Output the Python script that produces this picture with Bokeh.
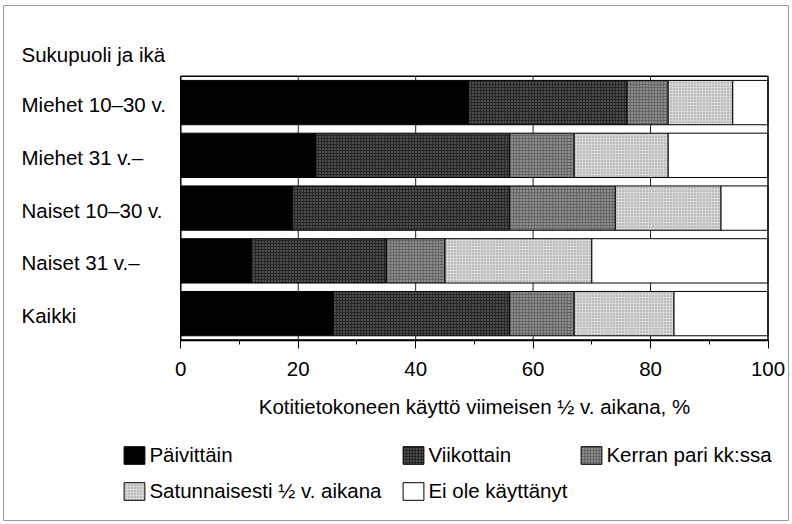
from bokeh.plotting import figure
from bokeh.models import (ColumnDataSource, Range1d, Label, Legend,
                          LegendItem, FixedTicker, LinearAxis)
from bokeh.embed import file_html
from bokeh.resources import INLINE

# ---- data ----
groups = ["Miehet 10–30 v.", "Miehet 31 v.–", "Naiset 10–30 v.", "Naiset 31 v.–", "Kaikki"]
series_names = ["Päivittäin", "Viikottain", "Kerran pari kk:ssa",
                "Satunnaisesti ½ v. aikana", "Ei ole käyttänyt"]
paivittain = [49, 23, 19, 12, 26]
viikottain = [27, 33, 37, 23, 30]
kerran = [7, 11, 18, 10, 11]
satunnaisesti = [11, 16, 18, 25, 17]
ei_ole = [6, 17, 8, 30, 16]
x_ticks = [0, 20, 40, 60, 80, 100]
y_title = "Sukupuoli ja ikä"
x_title = "Kotitietokoneen käyttö viimeisen ½ v. aikana, %"

# fill + stipple texture per series
colors = ["#000000", "#262626", "#666666", "#d8d8d8", "#ffffff"]
hatch_patterns = [" ", ".", ".", ".", " "]
hatch_colors = ["#000000", "#8a8a8a", "#c8c8c8", "#8e8e8e", "#ffffff"]
keys = ["s0", "s1", "s2", "s3", "s4"]
FONT = "Liberation Sans"
FS = "20.5px"

n = len(groups)
ypos = [n - i - 0.5 for i in range(n)]  # first group at top
xmin, xmax = x_ticks[0], x_ticks[-1]

# ---- layout (pixels) ----
W, H = 792, 524
ML, MR, MT, MB = 3, 4, 5, 4            # outer frame inset
BOX_L, BOX_R, BOX_T, BOX_B = 180.3, 767.5, 75.7, 339.5   # plot box on canvas
fl, fr, ft, fb = ML, W - MR, MT, H - MB
sx = (BOX_R - BOX_L) / (xmax - xmin)
sy = (BOX_B - BOX_T) / n
x_range = Range1d(xmin - (BOX_L - fl) / sx, xmax + (fr - BOX_R) / sx)
y_range = Range1d(0 - (fb - BOX_B) / sy, n + (BOX_T - ft) / sy)

src = ColumnDataSource(dict(group=groups, y=ypos, s0=paivittain, s1=viikottain,
                            s2=kerran, s3=satunnaisesti, s4=ei_ole))

p = figure(width=W, height=H, output_backend="svg", toolbar_location=None,
           x_range=x_range, y_range=y_range,
           x_axis_location=None, y_axis_location=None,
           min_border_left=ML, min_border_right=MR, min_border_top=MT,
           min_border_bottom=MB)
p.outline_line_color = "#9a9a9a"
p.outline_line_width = 1
p.grid.visible = False

# vertical grid lines inside the plot box
p.segment(x0=x_ticks[1:-1], x1=x_ticks[1:-1], y0=0, y1=n,
          line_color="#222222", line_width=1)

rs = p.hbar_stack(keys, y="y", height=0.84, fill_color=colors, source=src,
                  line_color="black", line_width=1,
                  hatch_pattern=hatch_patterns, hatch_color=hatch_colors,
                  hatch_scale=3, hatch_weight=1.5)

# plot box
p.quad(left=xmin, right=xmax, bottom=0, top=n, fill_color=None,
       line_color="black", line_width=1.5)

ax = LinearAxis(fixed_location=0, bounds=(xmin, xmax))
p.add_layout(ax, "below")
ax.ticker = FixedTicker(ticks=x_ticks, minor_ticks=list(range(xmin, xmax + 1, 10)))
ax.axis_line_color = "black"
ax.axis_line_width = 1.5
ax.major_tick_out = 8
ax.major_tick_in = 0
ax.minor_tick_out = 4
ax.minor_tick_in = 0
ax.major_tick_line_color = "black"
ax.minor_tick_line_color = "black"
ax.major_label_text_font = FONT
ax.major_label_text_font_size = FS
ax.major_label_text_color = "black"
ax.major_label_standoff = 14
ax.axis_label = x_title
ax.axis_label_text_font = FONT
ax.axis_label_text_font_size = FS
ax.axis_label_text_font_style = "normal"
ax.axis_label_text_color = "black"
ax.axis_label_standoff = 15

LBL_X = 21 - fl
# y title
p.add_layout(Label(x=LBL_X, y=fb - 54, x_units="screen", y_units="screen", text=y_title,
                   text_font=FONT, text_font_size=FS, text_baseline="middle",
                   text_align="left", text_color="black"))
# row labels
for g, yy in zip(groups, ypos):
    p.add_layout(Label(x=LBL_X, y=yy, x_units="screen", y_offset=-2, text=g,
                       text_font=FONT, text_font_size=FS, text_baseline="middle",
                       text_align="left", text_color="black"))

# legend: 2 rows, 3 columns
col_x = [121.4 - fl, 400.4 - fl, 578.4 - fl]
row_y = [fb - 466.5, fb - 502.5]
positions = [(col_x[0], row_y[0]), (col_x[1], row_y[0]), (col_x[2], row_y[0]),
             (col_x[0], row_y[1]), (col_x[1], row_y[1])]
for name, r, loc in zip(series_names, rs, positions):
    lg = Legend(items=[LegendItem(label=name, renderers=[r])], location=loc,
                padding=0, margin=0, border_line_color=None,
                background_fill_alpha=0, glyph_width=26, glyph_height=22,
                label_standoff=2, label_text_font=FONT, label_text_font_size=FS,
                label_text_color="black")
    p.add_layout(lg)

open("out.html", "w").write(file_html(p, INLINE))
